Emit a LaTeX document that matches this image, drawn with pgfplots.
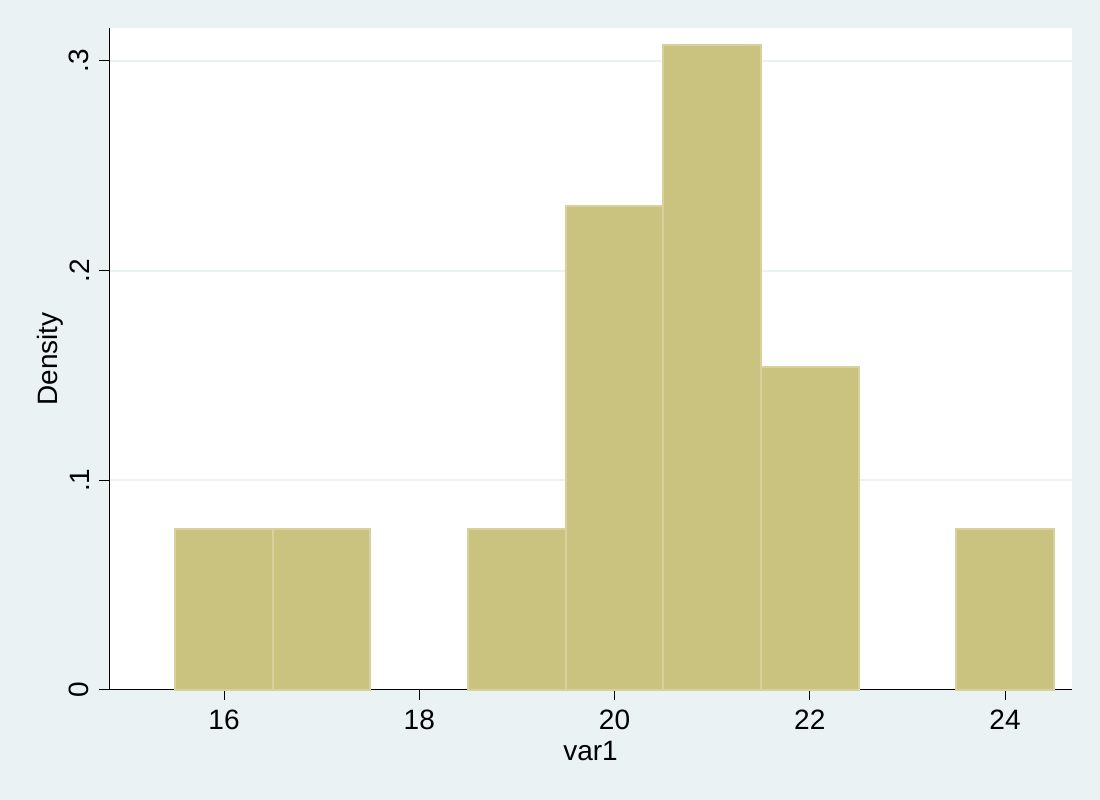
\documentclass[border=0pt]{standalone}
\usepackage{pgfplots}
\pgfplotsset{compat=1.18}
\usepackage{fontspec}
\setmainfont{Liberation Sans}
\definecolor{bg}{HTML}{EAF2F3}
\definecolor{barfill}{HTML}{CAC27F}
\definecolor{baredge}{HTML}{D8D19D}
\definecolor{gridc}{HTML}{EAF2F3}
\pgfplotsset{
  layers/mylayers/.define layer set={bglayer,axis background,axis grid,axis ticks,axis tick labels,main,axis lines,axis descriptions,axis foreground}{},
}
\begin{document}
\fontsize{14}{17}\selectfont
\begin{tikzpicture}
\begin{axis}[
  set layers=mylayers,
  scale only axis, width=481.5pt, height=331pt,
  xmin=14.822, xmax=24.686, ymin=0, ymax=0.3157,
  axis x line*=bottom, axis y line*=left,
  axis line style={black, line width=0.5pt},
  axis background/.style={fill=white},
  xtick={16,18,20,22,24},
  ytick={0,0.1,0.2,0.3}, yticklabels={0,.1,.2,.3},
  yticklabel style={rotate=90, anchor=south},
  ymajorgrids, grid style={gridc, line width=1pt},
  tick align=outside, major tick length=5pt,
  tick style={black, line width=0.5pt},
  ticklabel style={font=\fontsize{14}{17}\selectfont},
  label style={font=\fontsize{14}{17}\selectfont},
  xlabel={var1}, ylabel={Density},
  xlabel style={yshift=3.5pt},
  ylabel style={yshift=-6.5pt},
  /pgf/number format/assume math mode=true,
  clip=false,
]
\begin{pgfonlayer}{bglayer}
\fill[bg] (rel axis cs:-0.113188,-0.166163) rectangle (rel axis cs:1.029076,1.042296);
\end{pgfonlayer}
\addplot[ybar, bar width=1, bar shift=0, fill=barfill, draw=baredge, line width=1pt]
coordinates {(16,0.0769231) (17,0.0769231) (19,0.0769231) (20,0.2307692) (21,0.3076923) (22,0.1538462) (24,0.0769231)};
\end{axis}
\end{tikzpicture}
\end{document}
